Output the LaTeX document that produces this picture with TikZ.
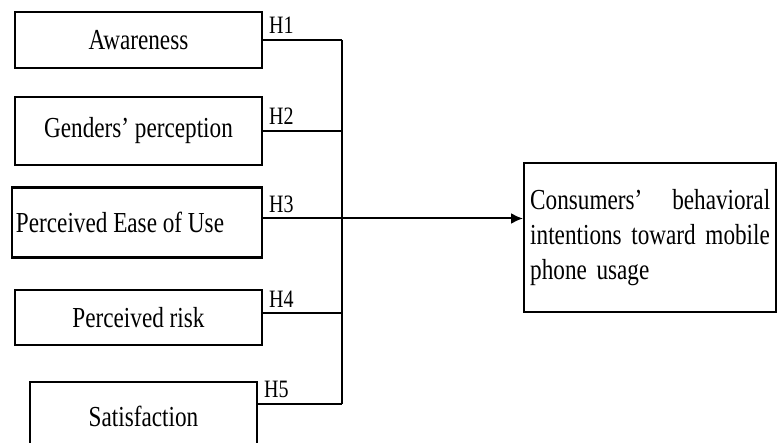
\documentclass[tikz,border=0pt]{standalone}
\usepackage{fontspec}
\setmainfont{Liberation Serif}[FakeStretch=0.8]
\usetikzlibrary{positioning, arrows.meta}

\begin{document}
\begin{tikzpicture}[x = 0.5pt, y = -0.5pt]%
    %
    \tikzstyle{arrow} = [-{Latex[length = 6pt, width = 5.5pt]}, draw = black, line width = 1pt]%
    \tikzstyle{link} = [draw = black, line width = 1pt]%
    \tikzstyle{block} = [rectangle, draw = black, line width = 1.2pt, text = black, font = \fontsize{14.5}{17.5}\selectfont, minimum width = 123.5pt, minimum height = 28pt, inner sep = 2pt]%
    \tikzstyle{hyp} = [above right, text = black, font = \fontsize{12.5}{14}\selectfont, inner sep = 2.5pt]%
    %
    \useasboundingbox (0, 0) rectangle (777, 443);%
    %
    \node [block] (awareness) at (138.5, 40) {Awareness};%
    \node [block, minimum height = 34pt] (genders) at (138.5, 131) {Genders' perception};%
    \node [block, minimum width = 125pt, minimum height = 35pt, text width = 121pt, align = flush left] (ease) at (137, 222.5) {Perceived Ease of Use};%
    \node [block, minimum height = 27.5pt] (risk) at (138.5, 317.5) {Perceived risk};%
    \node [block, minimum width = 113.5pt, minimum height = 34pt] (satisfaction) at (143.5, 416) {Satisfaction};%
    \node [block, anchor = west, text width = 120pt, align = left, inner xsep = 3pt, minimum height = 74.5pt] (intention) at (523, 237.5) {Consumers'\hfill behavioral\\ intentions toward mobile\\ phone usage};%
    %
    \coordinate (bus-top) at (342, 40);%
    \coordinate (h3) at ([yshift = 2pt]ease.east);%
    \coordinate (h4) at ([yshift = 2pt]risk.east);%
    \coordinate (h5) at ([yshift = -11.5pt]satisfaction.north east);%
    \coordinate (bus-bottom) at (h5 -| bus-top);%
    %
    \path [link] (bus-top) -- (bus-bottom);%
    \path [link] (awareness.east) -- (awareness.east -| bus-top) node [hyp, pos = 0] (label-h1) {H1};%
    \path [link] (genders.east) -- (genders.east -| bus-top) node [hyp, pos = 0] (label-h2) {H2};%
    \path [arrow] (h3) -- (intention.west |- h3) node [hyp, pos = 0] (label-h3) {H3};%
    \path [link] (h4) -- (h4 -| bus-top) node [hyp, pos = 0] (label-h4) {H4};%
    \path [link] (h5) -- (bus-bottom) node [hyp, pos = 0] (label-h5) {H5};%
    %
\end{tikzpicture}
\end{document}
